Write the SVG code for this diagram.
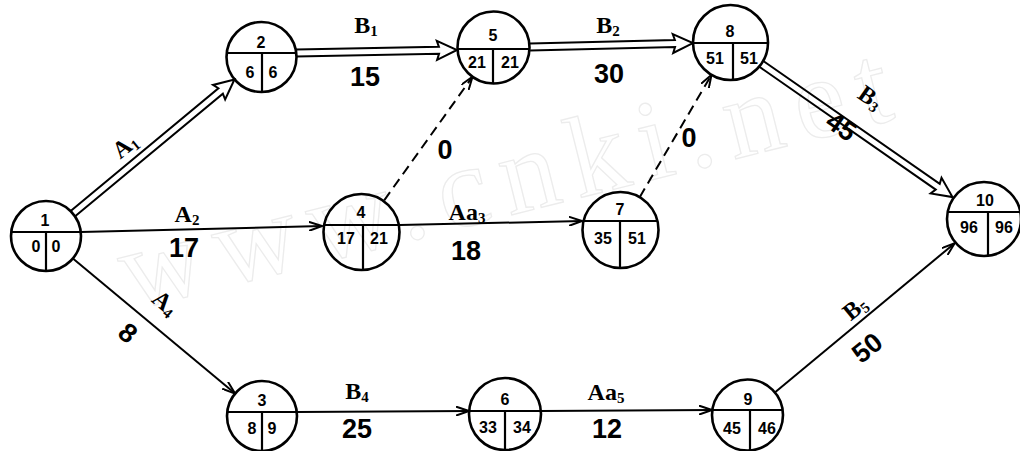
<svg xmlns="http://www.w3.org/2000/svg" width="1020" height="451" viewBox="0 0 1020 451">
<style>
.nd circle{fill:none;stroke:#000;stroke-width:2.6}
.nd line{stroke:#000;stroke-width:2.2}
.nt{font-family:"Liberation Sans",Arial,sans-serif;font-weight:bold;font-size:16px;text-anchor:middle;fill:#000}
.e{fill:none;stroke:#000;stroke-width:2}
.dbl{fill:none;stroke:#000;stroke-width:2;stroke-linejoin:miter}
.dash{stroke-dasharray:10 6}
.lt{font-family:"Liberation Serif","Times New Roman",serif;font-weight:bold;font-size:24px;text-anchor:middle;fill:#000}
.sb{font-size:15px}
.num{font-family:"Liberation Sans",Arial,sans-serif;font-weight:bold;font-size:27px;text-anchor:middle;fill:#000}
.wm{font-family:"Liberation Serif","Times New Roman",serif;font-size:115px;fill:none;stroke:#ececec;stroke-width:1.3}
</style>
<defs>
<marker id="ah" viewBox="0 0 14 10" refX="13" refY="5" markerWidth="14" markerHeight="10" orient="auto" markerUnits="userSpaceOnUse">
<path d="M0,0.5 L13,5 L0,9.5" fill="none" stroke="#000" stroke-width="2"/>
</marker>
</defs>
<rect width="1020" height="451" fill="#fff"/>
<text class="wm" transform="translate(130,310) rotate(-14)" textLength="790" lengthAdjust="spacing">www.cnki.net</text>

<g id="connectors">
<g transform="translate(72.9,213.6) rotate(-39.7)"><path class="dbl" d="M0,-3.5 L192,-3.5 L190,-9.5 L210,0 L190,9.5 L192,3.5 L0,3.5"/></g>
<g transform="translate(296,53) rotate(-1.07)"><path class="dbl" d="M0,-3.5 L143,-3.5 L141,-9.5 L161,0 L141,9.5 L143,3.5 L0,3.5"/></g>
<g transform="translate(530,47) rotate(-1.4)"><path class="dbl" d="M0,-3.5 L145,-3.5 L143,-9.5 L163,0 L143,9.5 L145,3.5 L0,3.5"/></g>
<g transform="translate(761.3,63.9) rotate(34.85)"><path class="dbl" d="M0,-3.5 L215,-3.5 L213,-9.5 L233,0 L213,9.5 L215,3.5 L0,3.5"/></g>
<line class="e" x1="81" y1="232" x2="322" y2="226" marker-end="url(#ah)"/>
<line class="e dash" x1="384.2" y1="200.3" x2="472.5" y2="76.8" marker-end="url(#ah)"/>
<line class="e" x1="400" y1="225" x2="582" y2="221" marker-end="url(#ah)"/>
<line class="e dash" x1="639.7" y1="197.2" x2="711.5" y2="74.8" marker-end="url(#ah)"/>
<line class="e" x1="72.9" y1="258.4" x2="235.1" y2="393.6" marker-end="url(#ah)"/>
<line class="e" x1="297" y1="412" x2="469" y2="411" marker-end="url(#ah)"/>
<line class="e" x1="541" y1="411" x2="712" y2="410" marker-end="url(#ah)"/>
<line class="e" x1="774.8" y1="392.4" x2="954.7" y2="243.2" marker-end="url(#ah)"/>
</g>

<g id="labels">
<text class="lt" transform="translate(130,152) rotate(-39)">A<tspan class="sb" dy="3">1</tspan></text>
<text class="lt" x="366" y="33">B<tspan class="sb" dy="3">1</tspan></text>
<text class="num" x="365" y="86">15</text>
<text class="lt" x="608" y="33">B<tspan class="sb" dy="3">2</tspan></text>
<text class="num" x="609" y="83">30</text>
<text class="lt" transform="translate(866,104) rotate(35)">B<tspan class="sb" dy="3">3</tspan></text>
<text class="num" transform="translate(836,134) rotate(35)">45</text>
<text class="lt" x="187" y="222">A<tspan class="sb" dy="3">2</tspan></text>
<text class="num" x="184" y="257">17</text>
<text class="num" x="445" y="159">0</text>
<text class="num" x="689" y="147">0</text>
<text class="lt" x="467" y="220">Aa<tspan class="sb" dy="3">3</tspan></text>
<text class="num" x="466" y="260">18</text>
<text class="lt" transform="translate(160,309) rotate(40)">A<tspan class="sb" dy="3">4</tspan></text>
<text class="num" transform="translate(122,340) rotate(40)">8</text>
<text class="lt" x="357" y="399">B<tspan class="sb" dy="3">4</tspan></text>
<text class="num" x="357" y="438">25</text>
<text class="lt" x="606" y="400">Aa<tspan class="sb" dy="3">5</tspan></text>
<text class="num" x="607" y="438">12</text>
<text class="lt" transform="translate(860,314) rotate(-39)">B<tspan class="sb" dy="3">5</tspan></text>
<text class="num" transform="translate(873,355) rotate(-39)">50</text>
</g>

<g id="node1" class="nd"><circle cx="46" cy="236" r="35"/><line x1="11" y1="232" x2="81" y2="232"/><line x1="46" y1="232" x2="46" y2="271"/><text class="nt" x="45" y="226">1</text><text class="nt" x="36" y="252">0</text><text class="nt" x="56" y="252">0</text></g>
<g id="node2" class="nd"><circle cx="261.5" cy="57" r="35"/><line x1="226.8" y1="53" x2="296.2" y2="53"/><line x1="262" y1="53" x2="262" y2="92"/><text class="nt" x="261" y="48">2</text><text class="nt" x="250" y="78">6</text><text class="nt" x="273" y="78">6</text></g>
<g id="node5" class="nd"><circle cx="493.5" cy="47.5" r="36"/><line x1="457.5" y1="49" x2="529.5" y2="49"/><line x1="493" y1="49" x2="493" y2="83.5"/><text class="nt" x="493" y="41">5</text><text class="nt" x="477" y="68">21</text><text class="nt" x="510" y="68">21</text></g>
<g id="node8" class="nd"><circle cx="730.5" cy="42.5" r="37.5"/><line x1="693" y1="43" x2="768" y2="43"/><line x1="733" y1="43" x2="733" y2="80"/><text class="nt" x="730" y="37">8</text><text class="nt" x="715" y="64">51</text><text class="nt" x="749" y="64">51</text></g>
<g id="node10" class="nd"><circle cx="984" cy="219" r="37"/><line x1="947.6" y1="212" x2="1020.4" y2="212"/><line x1="988" y1="212" x2="988" y2="256"/><text class="nt" x="985" y="206">10</text><text class="nt" x="969" y="233">96</text><text class="nt" x="1004" y="233">96</text></g>
<g id="node4" class="nd"><circle cx="361.5" cy="232" r="38"/><line x1="324" y1="225" x2="399" y2="225"/><line x1="363" y1="225" x2="363" y2="270"/><text class="nt" x="361" y="218">4</text><text class="nt" x="346" y="244">17</text><text class="nt" x="379" y="244">21</text></g>
<g id="node7" class="nd"><circle cx="620.5" cy="230" r="38"/><line x1="583.5" y1="221" x2="657.5" y2="221"/><line x1="620" y1="221" x2="620" y2="268"/><text class="nt" x="620" y="215">7</text><text class="nt" x="603" y="244">35</text><text class="nt" x="637" y="244">51</text></g>
<g id="node3" class="nd"><circle cx="262" cy="416" r="35"/><line x1="227.2" y1="412" x2="296.8" y2="412"/><line x1="262" y1="412" x2="262" y2="451"/><text class="nt" x="262" y="406">3</text><text class="nt" x="252" y="434">8</text><text class="nt" x="272" y="434">9</text></g>
<g id="node6" class="nd"><circle cx="505" cy="414" r="36"/><line x1="469.1" y1="411" x2="540.9" y2="411"/><line x1="505" y1="411" x2="505" y2="450"/><text class="nt" x="505" y="405">6</text><text class="nt" x="488" y="433">33</text><text class="nt" x="522" y="433">34</text></g>
<g id="node9" class="nd"><circle cx="747.5" cy="415" r="35.5"/><line x1="712.3" y1="410" x2="782.7" y2="410"/><line x1="750" y1="410" x2="750" y2="450"/><text class="nt" x="748" y="405">9</text><text class="nt" x="732" y="434">45</text><text class="nt" x="767" y="434">46</text></g>
</svg>
